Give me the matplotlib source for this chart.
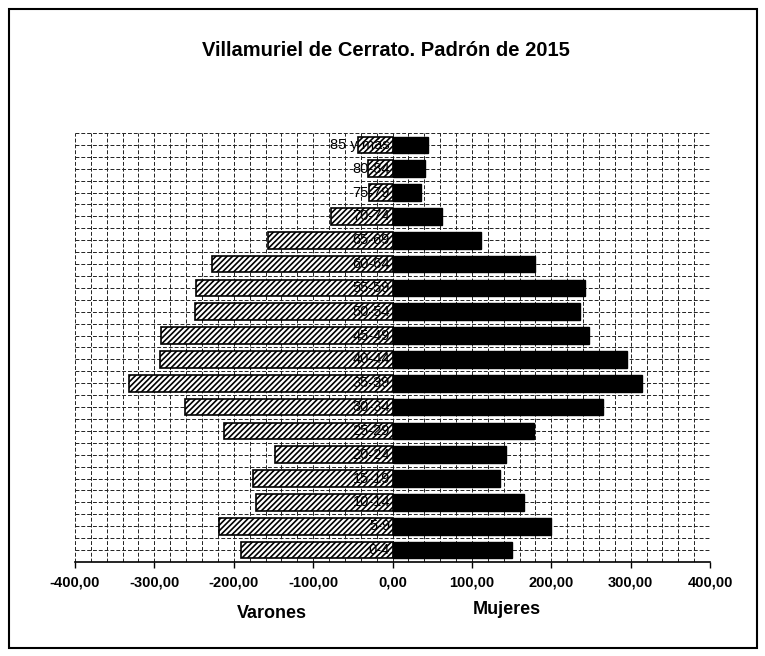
import numpy as np
import matplotlib
matplotlib.use("Agg")
import matplotlib.pyplot as plt
from matplotlib.patches import Rectangle

plt.rcParams['font.family'] = ['Liberation Sans', 'DejaVu Sans']
plt.rcParams['hatch.linewidth'] = 1.2

title = "Villamuriel de Cerrato. Padrón de 2015"
ages = ['0-4', '5-9', '10-14', '15-19', '20-24', '25-29', '30-34', '35-39',
        '40-44', '45-49', '50-54', '55-59', '60-64', '65-69', '70-74',
        '75-79', '80-84', '85 y más']
varones = [191, 218, 172, 176, 148, 212, 262, 332, 293, 292, 249, 247,
           227, 157, 78, 29, 31, 43]
mujeres = [150, 200, 166, 135, 143, 178, 265, 314, 296, 247, 236, 243,
           180, 112, 62, 36, 41, 45]
xticks = [-400, -300, -200, -100, 0, 100, 200, 300, 400]
xtick_labels = ['-400,00', '-300,00', '-200,00', '-100,00', '0,00',
                '100,00', '200,00', '300,00', '400,00']

fig = plt.figure(figsize=(7.65, 6.56), dpi=100)
ax = fig.add_axes([75/765, 1 - 562/656, 635/765, (562 - 133)/656])

y = np.arange(len(ages))
ax.barh(y, -np.array(varones), height=0.7, color='white', edgecolor='black',
        hatch='//////', linewidth=1.2, zorder=3)
ax.barh(y, mujeres, height=0.7, color='black', edgecolor='black',
        linewidth=1.0, zorder=3)

for yi, lab in zip(y, ages):
    ax.text(-3, yi, lab, ha='right', va='center', fontsize=10.5, color='black',
            zorder=4)

ax.set_xlim(-400, 400)
ax.set_ylim(-0.5, len(ages) - 0.5)
ax.set_xticks(xticks)
ax.set_xticklabels(xtick_labels, fontsize=10.5, fontweight='bold')
ax.set_xticks(np.arange(-400, 401, 20), minor=True)
ax.set_yticks([])
ax.set_yticks(np.arange(-0.5, len(ages), 0.5), minor=True)
ax.tick_params(axis='y', which='both', length=0)
ax.tick_params(axis='x', which='minor', length=0)
ax.tick_params(axis='x', which='major', length=4, width=1, pad=6)
ax.grid(which='both', color='#222222', linewidth=0.7, linestyle=(0, (4, 2)))
ax.set_axisbelow(True)
for s in ['left', 'right', 'top']:
    ax.spines[s].set_visible(False)
ax.spines['bottom'].set_linewidth(1.2)

fig.text(0.505, 1 - 50/656, title, ha='center', va='center', fontsize=14.5,
         fontweight='bold')
fig.text(272/765, 1 - 613/656, 'Varones', ha='center', va='center',
         fontsize=13, fontweight='bold')
fig.text(507/765, 1 - 609/656, 'Mujeres', ha='center', va='center',
         fontsize=13, fontweight='bold')

fig.patches.append(Rectangle((9/765, 1 - 648/656), (757 - 9)/765,
                             (648 - 9)/656, transform=fig.transFigure,
                             fill=False, edgecolor='black', linewidth=1.5))

fig.savefig('out.png', dpi=100)
